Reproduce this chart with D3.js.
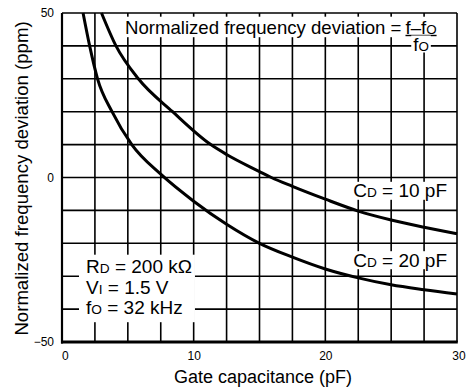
<!DOCTYPE html>
<html><head><meta charset="utf-8">
<script src="https://cdn.jsdelivr.net/npm/d3@7"></script>
<style>
body{margin:0;background:#fff}
svg{display:block}
text{font-family:"Liberation Sans",Arial,Helvetica,sans-serif;fill:#000}
</style>
</head><body>
<svg id="c" width="469" height="390"></svg>
<script>
// ---- data ----
const capCd10 = [3.0, 4.1, 5.8, 8.4, 11.3, 12.5, 15.0, 15.9, 17.5, 20.0, 22.5, 25.0, 27.5, 30.0];
const devCd10 = [50, 40, 30, 20, 10, 7.0, 1.8, 0, -2.7, -6.6, -10.2, -12.9, -15.1, -17.1];
const capCd20 = [1.6, 2.1, 2.7, 3.8, 5.3, 7.5, 10.0, 12.5, 15.0, 17.5, 20.0, 22.5, 25.0, 27.5, 30.0];
const devCd20 = [50, 40, 30, 20, 10, 1.0, -7.2, -14.2, -20.0, -24.2, -27.8, -30.5, -32.6, -34.1, -35.4];
const xTickValues = [0, 10, 20, 30];
const yTickValues = [-50, 0, 50];
const xGridStep = 2.5;
const yGridStep = 10;
const xTitle = "Gate capacitance (pF)";
const yTitle = "Normalized frequency deviation (ppm)";
const titleText = "Normalized frequency deviation =";
const labelCd10 = [["C", 0], ["D", 1], [" = 10 pF", 0]];
const labelCd20 = [["C", 0], ["D", 1], [" = 20 pF", 0]];
const condLines = [
  [["R", 0], ["D", 1], [" = 200 k\u03A9", 0]],
  [["V", 0], ["I", 1], [" = 1.5 V", 0]],
  [["f", 0], ["O", 1], [" = 32 kHz", 0]]
];

// ---- layout ----
const L = 62, R = 457, T = 13, B = 342;
const svg = d3.select("#c");
const x = d3.scaleLinear().domain([0, 30]).range([L, R]);
const y = d3.scaleLinear().domain([-50, 50]).range([B, T]);

// grid
const g = svg.append("g");
g.selectAll("line.vx").data(d3.range(0, 30 + 1e-9, xGridStep)).join("line")
  .attr("x1", d => x(d)).attr("x2", d => x(d)).attr("y1", T).attr("y2", B)
  .attr("stroke", "#000").attr("stroke-width", 1.6);
g.selectAll("line.hy").data(d3.range(-50, 50 + 1e-9, yGridStep)).join("line")
  .attr("x1", L).attr("x2", R).attr("y1", d => y(d)).attr("y2", d => y(d))
  .attr("stroke", "#000").attr("stroke-width", 1.6);
// heavier left/bottom frame
svg.append("line").attr("x1", L).attr("x2", L).attr("y1", T).attr("y2", B + 1.5)
  .attr("stroke", "#000").attr("stroke-width", 2.2);
svg.append("line").attr("x1", L - 1).attr("x2", R + 0.8).attr("y1", B).attr("y2", B)
  .attr("stroke", "#000").attr("stroke-width", 3);

// curves
const line = d3.line().x(d => x(d[0])).y(d => y(d[1])).curve(d3.curveMonotoneX);
[[capCd10, devCd10], [capCd20, devCd20]].forEach(([c, v]) => {
  svg.append("path").datum(c.map((cc, i) => [cc, v[i]]))
    .attr("d", line).attr("fill", "none").attr("stroke", "#000").attr("stroke-width", 3);
});

// axes
const ax = svg.append("g").attr("transform", `translate(0,${B})`)
  .call(d3.axisBottom(x).tickValues(xTickValues).tickSize(0).tickPadding(9));
ax.select(".domain").remove();
ax.selectAll("text").attr("font-size", 12).attr("font-family", null);
ax.selectAll(".tick").filter(d => d === 0).select("text").attr("text-anchor", "start").attr("x", -0.5);
ax.selectAll(".tick").filter(d => d === 30).select("text").attr("x", 1.5);
const ay = svg.append("g").attr("transform", `translate(${L},0)`)
  .call(d3.axisLeft(y).tickValues(yTickValues).tickSize(0).tickPadding(8));
ay.select(".domain").remove();
ay.selectAll("text").attr("font-size", 12).attr("font-family", null);

// helper: text with small-cap subscripts and white backing box
function richText(parent, parts, xPos, yPos, size) {
  const t = parent.append("text").attr("x", xPos).attr("y", yPos).attr("font-size", size);
  parts.forEach(([s, sub]) => {
    t.append("tspan").text(s).attr("font-size", sub ? size * 0.72 : size);
  });
  return t;
}
function backBox(parent, node, padL, padR, padT, padB) {
  const b = node.getBBox();
  parent.insert("rect", () => node)
    .attr("x", b.x - padL).attr("y", b.y - padT)
    .attr("width", b.width + padL + padR).attr("height", b.height + padT + padB)
    .attr("fill", "#fff");
}

// title with fraction
const tg = svg.append("g");
const tt = tg.append("text").attr("x", 125).attr("y", 33.7).attr("font-size", 18.6).text(titleText);
const tEnd = 125 + tt.node().getComputedTextLength();
const num = richText(tg, [["f\u2013f", 0], ["O", 1]], tEnd + 4, 33.7, 18.6);
const nb = num.node().getBBox();
backBox(tg, tt.node(), 4, 4, 0, -0.5);
backBox(tg, num.node(), 0, 3, 0, -0.5);
tg.append("line").attr("x1", nb.x).attr("x2", nb.x + nb.width).attr("y1", 35.5).attr("y2", 35.5)
  .attr("stroke", "#000").attr("stroke-width", 1.4);
const den = richText(tg, [["f", 0], ["O", 1]], nb.x + nb.width / 2, 50.5, 18.6).attr("text-anchor", "middle");
backBox(tg, den.node(), 2, 2, -2, -2);

// curve labels
const l1 = richText(svg, labelCd10, 447, 197.3, 19).attr("text-anchor", "end");
backBox(svg, l1.node(), 4, 4, -1.5, -1.5);
const l2 = richText(svg, labelCd20, 447, 266.7, 19).attr("text-anchor", "end");
backBox(svg, l2.node(), 4, 4, -1.5, -1.5);

// conditions block
const cg = svg.append("g");
const baselines = [272.7, 293.7, 314.2];
const condNodes = condLines.map((p, i) => richText(cg, p, 86, baselines[i], 19));
const cbTop = condNodes[0].node().getBBox();
const cbBot = condNodes[2].node().getBBox();
let maxW = d3.max(condNodes, n => n.node().getBBox().width);
cg.insert("rect", ":first-child").attr("x", 79).attr("y", cbTop.y - 1)
  .attr("width", 86 + maxW + 3 - 79).attr("height", cbBot.y + cbBot.height + 4 - (cbTop.y - 1))
  .attr("fill", "#fff");

// axis titles
svg.append("text").attr("x", 263).attr("y", 383).attr("text-anchor", "middle")
  .attr("font-size", 18).text(xTitle);
svg.append("text").attr("transform", "translate(27.5,178.5) rotate(-90)")
  .attr("text-anchor", "middle").attr("font-size", 18.6).text(yTitle);
</script>
</body></html>
